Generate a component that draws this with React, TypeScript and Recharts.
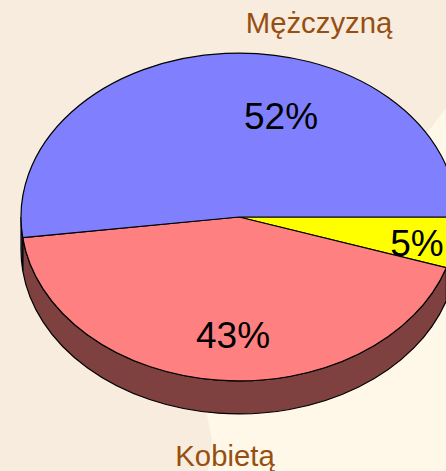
import React from "react";
import { PieChart, Pie } from "recharts";

// slices run clockwise from 3 o'clock
const categories = ["", "Kobietą", "Mężczyzną"];
const shares = [5, 43, 52];
const topColors = ["#ffff00", "#ff8080", "#8080ff"];
const sideColors = ["#808000", "#7f4040", "#404080"];

const pieData = categories.map((name, i) => ({
  name,
  value: shares[i],
  fill: topColors[i],
  side: sideColors[i],
}));

// tilt of the pie
const SQUASH = 0.752;
const DEPTH = 33;

// label centres, relative to the pie centre
const percentOffsets = [
  [178, 26],
  [-6, 118],
  [42, -101],
];
const nameOffsets = [
  [0, 0],
  [-14, 238],
  [80, -195],
];

const RAD = Math.PI / 180;

// recharts hands over negative angles (clockwise), flip them for screen y
function ellipsePoint(cx: number, cy: number, rx: number, ry: number, t: number) {
  return [cx + rx * Math.cos(t * RAD), cy + ry * Math.sin(t * RAD)];
}

function TiltedSlice(props: any) {
  const { cx, cy, outerRadius, startAngle, endAngle, fill, payload, side } = props;
  const rx = outerRadius;
  const ry = outerRadius * SQUASH;
  const t1 = -startAngle;
  const t2 = -endAngle;
  const [x1, y1] = ellipsePoint(cx, cy, rx, ry, t1);
  const [x2, y2] = ellipsePoint(cx, cy, rx, ry, t2);
  const large = t2 - t1 > 180 ? 1 : 0;
  const top = `M${cx},${cy} L${x1},${y1} A${rx},${ry} 0 ${large} 1 ${x2},${y2} Z`;

  // side wall only shows on the front half
  const w1 = Math.min(t1, 180);
  const w2 = Math.min(t2, 180);
  let wall = null;
  if (w2 > w1) {
    const [a1, b1] = ellipsePoint(cx, cy, rx, ry, w1);
    const [a2, b2] = ellipsePoint(cx, cy, rx, ry, w2);
    const d =
      `M${a1},${b1} A${rx},${ry} 0 0 1 ${a2},${b2} L${a2},${b2 + DEPTH} ` +
      `A${rx},${ry} 0 0 0 ${a1},${b1 + DEPTH} Z`;
    wall = <path d={d} fill={side ?? payload?.side} stroke="#000" strokeWidth={1.2} />;
  }

  return (
    <g>
      {wall}
      <path d={top} fill={fill} stroke="#000" strokeWidth={1.2} />
    </g>
  );
}

function SliceLabel(props: any) {
  const { cx, cy, index, percent, name } = props;
  const [px, py] = percentOffsets[index];
  const [nx, ny] = nameOffsets[index];
  return (
    <g style={{ fontFamily: "'Liberation Sans', Arial, sans-serif" }}>
      <text x={cx + px} y={cy + py} fontSize={37} fill="#000" textAnchor="middle" dominantBaseline="central">
        {Math.round(percent * 100)}%
      </text>
      {name ? (
        <text x={cx + nx} y={cy + ny} fontSize={29.3} fill="#974f10" textAnchor="middle" dominantBaseline="central">
          {name}
        </text>
      ) : null}
    </g>
  );
}

export default function App() {
  return (
    <div
      style={{
        position: "fixed",
        left: 0,
        top: 0,
        width: 446,
        height: 471,
        overflow: "hidden",
        background: "#f8ecdf",
      }}
    >
      {/* paler wash behind the lower right */}
      <div
        style={{
          position: "absolute",
          inset: 0,
          background: "#fff8e8",
          clipPath: "polygon(446px 108px, 446px 471px, 208px 471px, 212px 440px, 206px 410px, 300px 300px)",
        }}
      />
      <div style={{ position: "absolute", left: 0, top: 0 }}>
        <PieChart width={446} height={471} margin={{ top: 0, right: 0, bottom: 0, left: 0 }}>
          <Pie
            data={pieData}
            dataKey="value"
            nameKey="name"
            cx={239}
            cy={217}
            innerRadius={0}
            outerRadius={218}
            startAngle={0}
            endAngle={-360}
            paddingAngle={0}
            stroke="none"
            labelLine={false}
            label={SliceLabel}
            shape={TiltedSlice}
            isAnimationActive={false}
          />
        </PieChart>
      </div>
    </div>
  );
}
